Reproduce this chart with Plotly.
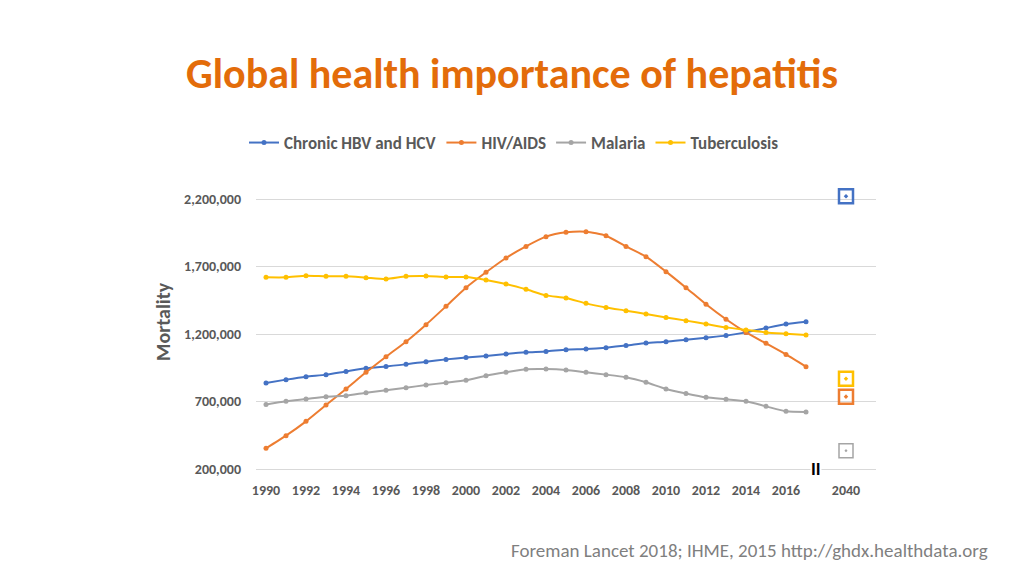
import plotly.graph_objects as go

years = list(range(1990, 2018))
hbv_hcv = [837000, 862000, 884000, 899000, 923000, 946000, 960000, 975000, 995000, 1012000,
           1025000, 1037000, 1052000, 1064000, 1071000, 1084000, 1089000, 1099000, 1114000, 1133000,
           1143000, 1158000, 1173000, 1188000, 1212000, 1244000, 1274000, 1291000]
hiv_aids = [353000, 447000, 553000, 674000, 793000, 916000, 1032000, 1143000, 1269000, 1405000,
            1543000, 1657000, 1763000, 1849000, 1921000, 1953000, 1958000, 1928000, 1849000, 1773000,
            1662000, 1543000, 1420000, 1309000, 1212000, 1131000, 1049000, 958000]
malaria = [677000, 701000, 718000, 736000, 743000, 765000, 783000, 802000, 822000, 839000,
           857000, 891000, 916000, 938000, 940000, 933000, 916000, 899000, 879000, 842000,
           793000, 760000, 731000, 716000, 701000, 664000, 627000, 622000]
tuberculosis = [1620000, 1620000, 1632000, 1627000, 1627000, 1617000, 1607000, 1627000, 1630000, 1622000,
                1622000, 1600000, 1570000, 1531000, 1486000, 1467000, 1427000, 1397000, 1373000, 1348000,
                1323000, 1299000, 1274000, 1249000, 1230000, 1212000, 1202000, 1193000]

# 2040 projections
proj_label = "2040"
proj_pos = 2019  # plotted position after the axis break
proj_values = {"Chronic HBV and HCV": 2220000, "HIV/AIDS": 736000,
               "Malaria": 336000, "Tuberculosis": 869000}

series = [
    ("Chronic HBV and HCV", hbv_hcv, "#4472C4"),
    ("HIV/AIDS", hiv_aids, "#ED7D31"),
    ("Malaria", malaria, "#A5A5A5"),
    ("Tuberculosis", tuberculosis, "#FFC000"),
]

y_ticks = [200000, 700000, 1200000, 1700000, 2200000]
x_tickvals = list(range(1990, 2017, 2)) + [proj_pos]
x_ticktext = [str(y) for y in range(1990, 2017, 2)] + [proj_label]

FONT = "Calibri, Carlito, Lato, 'Open Sans', sans-serif"
TXT = "#595959"

# layout geometry (figure coordinates; the page adds an 8px body margin)
L, R, T, B = 248, 156, 186, 115
PW, PH = 1024 - L - R, 576 - T - B
OFF = 8


def px(xp):
    return (xp - OFF - L) / PW


def py(yp):
    return (576 - B - (yp - OFF)) / PH


fig = go.Figure()
for name, vals, color in series:
    fig.add_trace(go.Scatter(
        x=years, y=vals, name=name, mode="lines+markers",
        line=dict(color=color, width=2, shape="spline", smoothing=0.6),
        marker=dict(color=color, size=5),
    ))
for name, vals, color in series:
    fig.add_trace(go.Scatter(
        x=[proj_pos], y=[proj_values[name]], mode="markers", showlegend=False,
        marker=dict(symbol="square-open-dot", size=14, color=color,
                    line=dict(color=color, width=2.5 if name != "Malaria" else 1.5)),
        cliponaxis=False,
    ))

fig.update_layout(
    width=1024, height=576,
    paper_bgcolor="white", plot_bgcolor="white",
    margin=dict(l=L, r=R, t=T, b=B),
    font=dict(family=FONT, color=TXT),
    showlegend=True,
    legend=dict(orientation="h", x=px(514), xanchor="center", y=py(143), yanchor="middle",
                font=dict(size=17, color=TXT, family=FONT, weight="bold"),
                itemwidth=30, tracegroupgap=0),
    xaxis=dict(range=[1989.5, 2020.5], tickmode="array", tickvals=x_tickvals, ticktext=x_ticktext,
               showgrid=False, showline=True, linecolor="#D9D9D9", linewidth=1,
               zeroline=False, ticks="", ticklabelstandoff=8,
               tickfont=dict(size=14, color=TXT, family=FONT, weight="bold")),
    yaxis=dict(range=[200000, 200000 + PH * 7407.4], tickmode="array", tickvals=y_ticks,
               tickformat=",d", showgrid=True, gridcolor="#D9D9D9", gridwidth=1,
               zeroline=False, showline=False, ticks="", ticklabelstandoff=14,
               tickfont=dict(size=14, color=TXT, family=FONT, weight="bold")),
)

fig.add_annotation(text="Global health importance of hepatitis", xref="paper", yref="paper",
                   x=px(512), y=py(73), showarrow=False,
                   xanchor="center", yanchor="middle",
                   font=dict(size=42, color="#E36C0A", family=FONT, weight="bold"))
fig.add_annotation(text="Mortality", xref="paper", yref="paper",
                   x=px(163), y=py(322), showarrow=False, textangle=-90,
                   xanchor="center", yanchor="middle",
                   font=dict(size=20, color=TXT, family=FONT, weight="bold"))
fig.add_annotation(text="II", x=2017.5, y=200000, showarrow=False,
                   xanchor="center", yanchor="middle", bgcolor="white",
                   borderpad=0,
                   font=dict(size=18, color="#000000", family=FONT, weight="bold"))
fig.add_annotation(text="Foreman Lancet 2018; IHME, 2015 http://ghdx.healthdata.org",
                   xref="paper", yref="paper", x=px(990), y=py(550),
                   xanchor="right", yanchor="middle", showarrow=False,
                   font=dict(size=19, color="#7F7F7F", family=FONT))

fig.write_html("out.html")
